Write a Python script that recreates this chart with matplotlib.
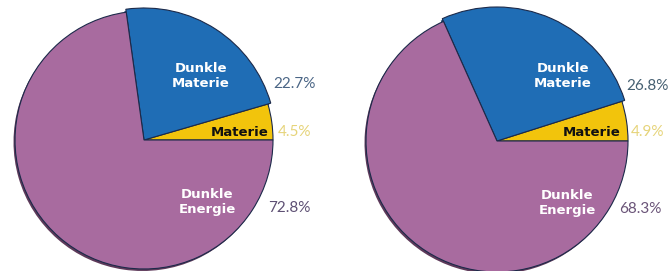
import matplotlib.pyplot as plt

# data: shares of the universe (old and new measurement)
labels = ["Materie", "Dunkle\nMaterie", "Dunkle\nEnergie"]
left_values = [4.5, 22.7, 72.8]
right_values = [4.9, 26.8, 68.3]
left_pct = ["4.5%", "22.7%", "72.8%"]
right_pct = ["4.9%", "26.8%", "68.3%"]

colors = ["#f2c40c", "#1f6db5", "#a86b9f"]
shadow = ["#8a6e10", "#123f6e", "#5e3a5a"]
label_colors = ["#111111", "white", "white"]
pct_colors_left = ["#e6d47a", "#4a6585", "#5e5074"]
pct_colors_right = ["#e6d47a", "#466072", "#6a5478"]

W, H = 671, 271
fig = plt.figure(figsize=(W / 100, H / 100), dpi=100)
ax = fig.add_axes([0, 0, 1, 1])


def draw_pie(cx, cy, r, values, pct, pct_colors, lab_pos, pct_pos):
    # dark rim underneath for the 3D look
    sh, _ = ax.pie(values, radius=r, center=(cx - 1.5, cy - 2), colors=shadow,
                   startangle=0, counterclock=True,
                   wedgeprops=dict(linewidth=0), frame=True)
    wd, _ = ax.pie(values, radius=r, center=(cx, cy), colors=colors,
                   startangle=0, counterclock=True,
                   wedgeprops=dict(linewidth=0.8, edgecolor="#1c2a4a"), frame=True)
    # blue slice sticks out a little
    sh[1].set_radius(r + 3)
    wd[1].set_radius(r + 3)
    for lab, (lx, ly), c in zip(labels, lab_pos, label_colors):
        ax.text(lx, H - ly, lab, color=c, fontsize=9.5, fontweight='bold',
                ha='center', va='center', linespacing=1.15,
                family='DejaVu Sans')
    for p, (px, py), c in zip(pct, pct_pos, pct_colors):
        ax.text(px, H - py, p, color=c, fontsize=11, fontweight='normal',
                ha='center', va='center', family='Lato')


draw_pie(144, H - 140, 129, left_values, left_pct, pct_colors_left,
         [(240, 132), (201, 76), (207, 202)],
         [(295, 132), (294, 84), (289, 208)])
draw_pie(497, H - 141, 131, right_values, right_pct, pct_colors_right,
         [(592, 132), (563, 76), (567, 203)],
         [(648, 132), (647, 86), (640, 209)])

ax.set_xlim(0, W)
ax.set_ylim(0, H)
ax.set_aspect('auto')
ax.axis('off')
fig.savefig("out.png", dpi=100)
